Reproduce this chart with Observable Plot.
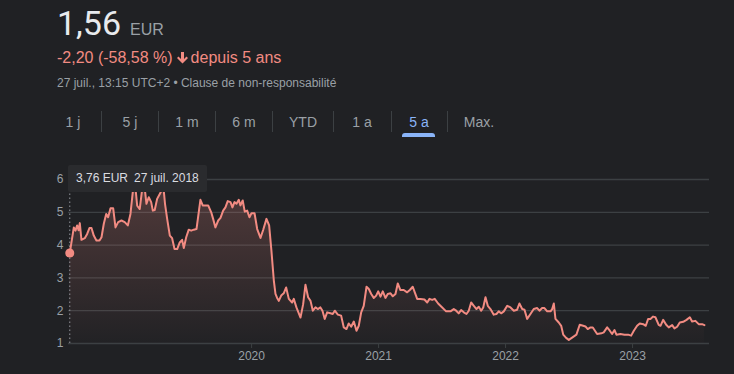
<!DOCTYPE html>
<html><head><meta charset="utf-8">
<script src="https://cdn.jsdelivr.net/npm/d3@7"></script>
<script src="https://cdn.jsdelivr.net/npm/@observablehq/plot@0.6"></script>
<style>
html,body{margin:0;padding:0;}
body{background:#202124;width:734px;height:374px;overflow:hidden;position:relative;font-family:"Liberation Sans",Arial,sans-serif;}
.abs{position:absolute;white-space:nowrap;}
#price{left:57px;top:6px;font-size:34px;line-height:1;color:#e8eaed;font-family:Roboto,sans-serif;}
#price .cur{font-size:16px;color:#9aa0a6;margin-left:9px;font-family:"Liberation Sans",Arial,sans-serif;}
#change{left:57px;top:50px;font-size:16px;line-height:1;color:#f28b82;}
#change svg{vertical-align:-1px;margin:0 3px 0 4px;}
#meta{left:57px;top:77px;font-size:12px;line-height:1;color:#9aa0a6;}
.tab{top:115px;font-size:14px;line-height:1;color:#9aa0a6;transform:translateX(-50%);}
.tab.on{color:#8ab4f8;}
.sep{top:111px;width:1px;height:21px;background:#3c4043;}
#uline{left:402px;top:133px;width:33px;height:4px;background:#8ab4f8;border-radius:3px 3px 0 0;}
#chart{position:absolute;left:0;top:160px;}
#tip{left:68px;top:165px;width:139px;height:27px;background:#2a2b2e;border-radius:2px;font-size:12px;line-height:27px;color:#dadce0;z-index:2;}
#tip span{margin-left:8px;}
</style></head><body>
<div id="price" class="abs">1,56<span class="cur">EUR</span></div>
<div id="change" class="abs">-2,20 (-58,58 %)<svg width="11" height="12" viewBox="0 0 11 12"><path d="M4 0h3v7l2.5-2.5 1.5 1.5-5.5 5.5-5.5-5.5 1.5-1.5 2.5 2.5z" fill="#f28b82"/></svg>depuis 5 ans</div>
<div id="meta" class="abs">27 juil., 13:15 UTC+2 • Clause de non-responsabilité</div>
<div id="tabs"></div>
<div id="uline" class="abs"></div>
<div id="chart"></div>
<div id="tip" class="abs"><span>3,76 EUR</span><span style="margin-left:6px">27 juil. 2018</span></div>
<script>
// ---- data ----
const tabLabels = ["1 j","5 j","1 m","6 m","YTD","1 a","5 a","Max."];
const activeTab = "5 a";
const yTicks = [1,2,3,4,5,6];
const xTicks = [2020,2021,2022,2023];

const years = [
2018.568,2018.600,2018.613,2018.626,2018.637,2018.647,2018.660,2018.686,2018.705,2018.723,
2018.739,2018.757,2018.778,2018.802,2018.818,2018.836,2018.855,2018.870,2018.889,2018.910,
2018.928,2018.949,2018.975,2019.001,2019.025,2019.046,2019.064,2019.080,2019.099,2019.119,
2019.138,2019.152,2019.172,2019.190,2019.209,2019.222,2019.237,2019.256,2019.277,2019.296,
2019.306,2019.318,2019.335,2019.356,2019.374,2019.393,2019.414,2019.434,2019.453,2019.466,
2019.485,2019.505,2019.524,2019.545,2019.566,2019.587,2019.597,2019.615,2019.637,2019.658,
2019.682,2019.697,2019.715,2019.737,2019.755,2019.776,2019.794,2019.812,2019.834,2019.849,
2019.865,2019.881,2019.899,2019.912,2019.930,2019.946,2019.965,2019.983,2019.999,2020.023,
2020.044,2020.070,2020.091,2020.117,2020.138,2020.156,2020.175,2020.188,2020.201,2020.214,
2020.233,2020.253,2020.272,2020.293,2020.319,2020.332,2020.353,2020.385,2020.406,2020.424,
2020.445,2020.464,2020.482,2020.503,2020.521,2020.542,2020.558,2020.576,2020.595,2020.621,
2020.639,2020.655,2020.679,2020.705,2020.726,2020.747,2020.765,2020.784,2020.805,2020.826,
2020.844,2020.863,2020.883,2020.905,2020.923,2020.942,2020.962,2020.981,2020.997,2021.015,
2021.033,2021.054,2021.072,2021.094,2021.112,2021.133,2021.151,2021.172,2021.198,2021.225,
2021.246,2021.269,2021.285,2021.304,2021.330,2021.361,2021.383,2021.401,2021.422,2021.442,
2021.469,2021.501,2021.532,2021.566,2021.592,2021.611,2021.631,2021.650,2021.671,2021.692,
2021.710,2021.729,2021.750,2021.771,2021.789,2021.808,2021.824,2021.842,2021.860,2021.881,
2021.907,2021.928,2021.946,2021.965,2021.986,2022.013,2022.039,2022.065,2022.091,2022.109,
2022.131,2022.149,2022.170,2022.196,2022.222,2022.249,2022.267,2022.288,2022.306,2022.328,
2022.354,2022.367,2022.380,2022.393,2022.419,2022.438,2022.454,2022.477,2022.498,2022.524,
2022.558,2022.584,2022.611,2022.629,2022.647,2022.669,2022.687,2022.721,2022.755,2022.773,
2022.800,2022.821,2022.839,2022.858,2022.873,2022.905,2022.936,2022.965,2022.989,2023.010,
2023.036,2023.057,2023.084,2023.104,2023.123,2023.141,2023.162,2023.180,2023.206,2023.220,
2023.241,2023.265,2023.285,2023.312,2023.330,2023.351,2023.372,2023.399,2023.425,2023.451,
2023.469,2023.495,2023.521,2023.548,2023.566
];
const prices = [
3.76,4.54,4.44,4.60,4.45,4.67,4.16,4.21,4.34,4.52,
4.52,4.29,4.14,4.14,4.24,4.65,4.95,4.85,5.12,5.12,
4.54,4.70,4.75,4.70,4.60,4.95,5.61,5.95,5.20,5.10,
5.70,5.95,5.26,5.46,5.31,5.05,5.07,5.41,5.56,5.70,
5.75,5.26,4.80,4.29,4.21,3.88,3.88,4.08,4.16,3.91,
4.24,4.47,4.44,4.47,4.49,5.10,5.38,5.21,5.21,5.21,
5.00,4.80,4.54,4.75,4.83,5.05,5.15,5.34,5.31,5.15,
5.31,5.26,5.38,5.21,5.36,5.02,5.05,4.85,4.97,4.97,
4.49,4.22,4.46,4.80,4.60,3.83,2.92,2.51,2.39,2.30,
2.46,2.53,2.71,2.36,2.25,2.36,2.10,1.79,2.20,2.79,
2.41,2.30,2.00,2.10,2.05,2.10,2.00,1.75,1.95,1.92,
1.90,2.00,1.88,1.85,1.49,1.44,1.61,1.51,1.67,1.39,
1.54,1.95,2.15,2.73,2.66,2.51,2.39,2.46,2.59,2.43,
2.59,2.39,2.51,2.53,2.44,2.51,2.83,2.63,2.63,2.56,
2.63,2.73,2.56,2.36,2.36,2.34,2.25,2.36,2.33,2.36,
2.22,2.10,1.98,1.98,2.05,2.00,1.92,2.02,1.95,1.90,
2.00,2.25,2.15,2.05,2.12,2.00,2.10,2.41,2.15,2.05,
1.88,1.90,1.98,1.92,1.98,2.15,2.10,2.00,2.03,2.22,
2.05,2.03,1.75,1.90,2.05,2.08,2.00,2.08,2.08,1.98,
1.98,2.05,2.22,1.75,1.64,1.54,1.27,1.17,1.11,1.18,
1.27,1.57,1.54,1.52,1.44,1.49,1.49,1.29,1.31,1.34,
1.49,1.39,1.29,1.41,1.27,1.29,1.27,1.27,1.24,1.39,
1.54,1.61,1.59,1.54,1.75,1.75,1.82,1.80,1.57,1.54,
1.72,1.57,1.49,1.56,1.46,1.51,1.64,1.66,1.72,1.80,
1.67,1.69,1.59,1.59,1.56
];

// ---- tabs ----
const tabX = [73,130,187,244,303,362,419,479];
const sepX = [101,158,215,272,333,391,447];
const tabsEl = document.getElementById("tabs");
tabLabels.forEach((t,i)=>{
  const s=document.createElement("div");
  s.className="abs tab"+(t===activeTab?" on":"");
  s.style.left=tabX[i]+"px"; s.textContent=t; tabsEl.appendChild(s);
  if(i<sepX.length){
    const sep=document.createElement("div");
    sep.className="abs sep";
    sep.style.left=sepX[i]+"px";
    tabsEl.appendChild(sep);
  }
});

// ---- chart ----
const data = years.map((t,i)=>({t, p: prices[i]}));
const plot = Plot.plot({
  width: 734, height: 214,
  marginLeft: 68, marginRight: 25, marginTop: 19, marginBottom: 31,
  style: {background: "transparent", color: "#9aa0a6", fontSize: "12px", fontFamily: "'Liberation Sans', Arial, sans-serif", overflow: "visible"},
  x: {type: "linear", domain: [2018.558, 2023.606], label: null},
  y: {domain: [1, 6], label: null},
  marks: [
    Plot.gridY(yTicks, {stroke: "#3c4043", strokeOpacity: 1, strokeWidth: 1.3}),
    Plot.areaY(data, {x: "t", y1: 1, y2: "p", fill: "url(#fillGrad)", curve: "linear"}),
    Plot.ruleX([years[0]], {y1: 1, y2: 6, stroke: "#9aa0a6", strokeOpacity: 0.9, strokeDasharray: "1.5,2.5"}),
    Plot.lineY(data, {x: "t", y: "p", stroke: "#f28b82", strokeWidth: 2, strokeLinejoin: "round"}),
    Plot.dot([data[0]], {x: "t", y: "p", r: 4.5, fill: "#f28b82", stroke: "none"}),
    Plot.axisY(yTicks, {tickSize: 0, tickPadding: 5, fill: "#9aa0a6", fontSize: 12, label: null}),
    Plot.axisX(xTicks, {tickSize: 5, tickPadding: 3, stroke: "#3c4043", fill: "#9aa0a6", fontSize: 12, tickFormat: d => String(d), label: null})
  ]
});
d3.select(plot).insert("defs", ":first-child").html(
  '<linearGradient id="fillGrad" x1="0" y1="0" x2="0" y2="1">' +
  '<stop offset="0" stop-color="#f28b82" stop-opacity="0.24"/>' +
  '<stop offset="1" stop-color="#f28b82" stop-opacity="0.01"/></linearGradient>');
document.getElementById("chart").appendChild(plot);
</script>
</body></html>
